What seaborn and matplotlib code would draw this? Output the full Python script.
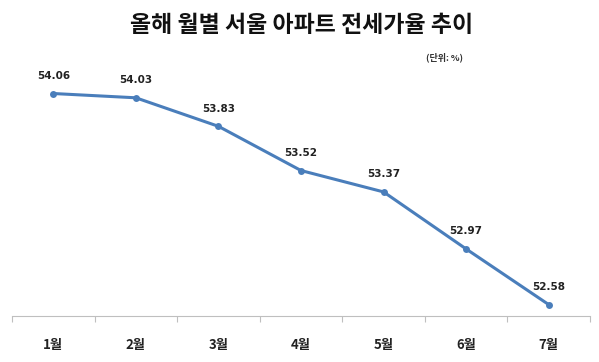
import matplotlib
matplotlib.use("Agg")
import matplotlib.pyplot as plt
import seaborn as sns
import pandas as pd

months = ["1월", "2월", "3월", "4월", "5월", "6월", "7월"]
rates = [54.06, 54.03, 53.83, 53.52, 53.37, 52.97, 52.58]
title = "올해 월별 서울 아파트 전세가율 추이"
unit = "(단위: %)"

sns.set_theme(style="white")
plt.rcParams['font.family'] = ['Noto Sans CJK KR', 'DejaVu Sans']

df = pd.DataFrame({"month": months, "rate": rates})

fig = plt.figure(figsize=(5.99, 3.62), dpi=100)
ax = fig.add_axes([12/599, 1 - 316/362, (590 - 12)/599, 256/362])

sns.lineplot(data=df, x="month", y="rate", ax=ax, color="#4A7EBB",
             linewidth=2.2, marker="o", markersize=5, markeredgewidth=0,
             sort=False)

for i, v in enumerate(rates):
    ax.annotate(f"{v:.2f}", (i, v), xytext=(0, 9), textcoords="offset points",
                ha="center", va="bottom", fontsize=7.5, fontweight="bold",
                color="#222222", family=['DejaVu Sans'])

ax.set_xlim(-0.5, len(months) - 0.5)
ax.set_ylim(52.5, 54.295)
ax.set_xlabel("")
ax.set_ylabel("")
ax.set_yticks([])

ax.set_xticks(range(len(months)))
ax.set_xticklabels(months, fontsize=9.5, fontweight="bold", color="#222222")
ax.tick_params(axis="x", which="major", length=0, pad=16)
ax.set_xticks([i - 0.5 for i in range(len(months) + 1)], minor=True)
ax.tick_params(axis="x", which="minor", length=4, width=0.8, color="#BFBFBF",
               direction="out", bottom=True)

for s in ["top", "left", "right"]:
    ax.spines[s].set_visible(False)
ax.spines["bottom"].set_color("#BFBFBF")
ax.spines["bottom"].set_linewidth(0.8)

fig.text(302/599, 1 - 26/362, title, ha="center", va="center",
         fontsize=16.5, fontweight="bold", color="#111111")
fig.text(445/599, 1 - 57/362, unit, ha="center", va="center",
         fontsize=6.5, fontweight="bold", color="#333333")

fig.savefig("out.png", dpi=100)
